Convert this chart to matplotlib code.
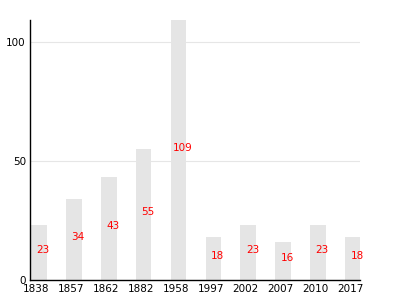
import matplotlib
matplotlib.use("Agg")
import matplotlib.pyplot as plt
import matplotlib.transforms as mtransforms
import numpy as np

years = ["1838", "1857", "1862", "1882", "1958", "1997", "2002", "2007", "2010", "2017"]
values = [23, 34, 43, 55, 109, 18, 23, 16, 23, 18]

fig = plt.figure(figsize=(4, 3), dpi=100)
ax = fig.add_axes([0.075, 0.067, 0.825, 0.866])

xs = np.arange(len(years))
ax.bar(xs, values, width=0.45, color="#e5e5e5", zorder=2)

# value labels in the middle of each bar, nudged right
for x, v in zip(xs, values):
    ax.text(x + 0.12, v / 2 + 1, str(v), color="red", fontsize=7.5,
            ha="center", va="center", zorder=3)

ax.set_xlim(-0.255, 9.2)
ax.set_ylim(0, 109)
ax.set_yticks([0, 50, 100])
ax.set_xticks(xs)
ax.set_xticklabels(years)
ax.tick_params(length=0, labelsize=7.5, pad=3)

# year labels sit a touch left of the bar centres
shift = mtransforms.ScaledTranslation(-2 / 72, 0, fig.dpi_scale_trans)
for lbl in ax.get_xticklabels():
    lbl.set_transform(lbl.get_transform() + shift)

ax.yaxis.grid(True, color="#e6e6e6", linewidth=0.8, zorder=0)
ax.spines["top"].set_visible(False)
ax.spines["right"].set_visible(False)
ax.spines["left"].set_linewidth(1)
ax.spines["bottom"].set_linewidth(1)

fig.savefig("out.png", dpi=100)
